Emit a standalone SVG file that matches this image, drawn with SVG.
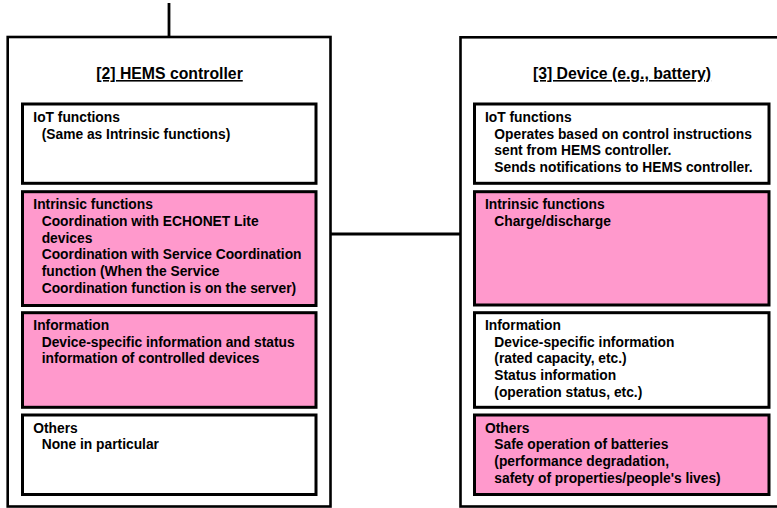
<svg xmlns="http://www.w3.org/2000/svg" width="777" height="508" viewBox="0 0 777 508">
  <style>
    .outer { fill: #ffffff; stroke: #000000; stroke-width: 2.6; }
    .box { stroke: #000000; stroke-width: 3; }
    .plain { fill: #ffffff; }
    .pink { fill: #ff99cc; }
    .wire { fill: none; stroke: #000000; stroke-width: 2.8; }
    text { font-family: "Liberation Sans", Arial, sans-serif; font-weight: bold; fill: #000000; }
    .title { font-size: 15.8px; text-anchor: middle; text-decoration: underline; }
    .body { font-size: 13.8px; }
  </style>

  <!-- connectors -->
  <g id="connectors">
    <line class="wire" x1="169" y1="3" x2="169" y2="37"/>
    <line class="wire" x1="330.5" y1="234" x2="460.5" y2="234"/>
  </g>

  <!-- [2] HEMS controller -->
  <g id="hems-controller">
    <rect class="outer" x="7.7" y="37" width="322.8" height="469.5"/>
    <text class="title" x="169.5" y="79">[2] HEMS controller</text>

    <g id="hems-iot">
      <rect class="box plain" x="22.5" y="104" width="293.5" height="79.3"/>
      <text class="body" x="33.3" y="122.3">IoT functions</text>
      <text class="body" x="41.7" y="139">(Same as Intrinsic functions)</text>
    </g>

    <g id="hems-intrinsic">
      <rect class="box pink" x="22.5" y="191.7" width="293.5" height="113.8"/>
      <text class="body" x="33.3" y="209.3">Intrinsic functions</text>
      <text class="body" x="41.7" y="226">Coordination with ECHONET Lite</text>
      <text class="body" x="41.7" y="242.7">devices</text>
      <text class="body" x="41.7" y="259.4">Coordination with Service Coordination</text>
      <text class="body" x="41.7" y="276.1">function (When the Service</text>
      <text class="body" x="41.7" y="292.8">Coordination function is on the server)</text>
    </g>

    <g id="hems-information">
      <rect class="box pink" x="22.5" y="312.7" width="293.5" height="94.6"/>
      <text class="body" x="33.3" y="330">Information</text>
      <text class="body" x="41.7" y="346.7">Device-specific information and status</text>
      <text class="body" x="41.7" y="363.4">information of controlled devices</text>
    </g>

    <g id="hems-others">
      <rect class="box plain" x="22.5" y="415" width="293.5" height="79.5"/>
      <text class="body" x="33.3" y="432.7">Others</text>
      <text class="body" x="41.7" y="449.4">None in particular</text>
    </g>
  </g>

  <!-- [3] Device (e.g., battery) -->
  <g id="device-battery">
    <rect class="outer" x="460.5" y="37.3" width="323" height="469.2"/>
    <text class="title" x="622" y="79">[3] Device (e.g., battery)</text>

    <g id="device-iot">
      <rect class="box plain" x="474.5" y="104" width="294.5" height="79.3"/>
      <text class="body" x="485" y="122">IoT functions</text>
      <text class="body" x="494.3" y="138.7">Operates based on control instructions</text>
      <text class="body" x="494.3" y="155.4">sent from HEMS controller.</text>
      <text class="body" x="494.3" y="172.1">Sends notifications to HEMS controller.</text>
    </g>

    <g id="device-intrinsic">
      <rect class="box pink" x="474.5" y="191.7" width="294.5" height="113.3"/>
      <text class="body" x="485" y="209.3">Intrinsic functions</text>
      <text class="body" x="494.3" y="226">Charge/discharge</text>
    </g>

    <g id="device-information">
      <rect class="box plain" x="474.5" y="312.7" width="294.5" height="94.6"/>
      <text class="body" x="485" y="330">Information</text>
      <text class="body" x="494.3" y="346.7">Device-specific information</text>
      <text class="body" x="494.3" y="363.4">(rated capacity, etc.)</text>
      <text class="body" x="494.3" y="380.1">Status information</text>
      <text class="body" x="494.3" y="396.8">(operation status, etc.)</text>
    </g>

    <g id="device-others">
      <rect class="box pink" x="474.5" y="415" width="294.5" height="79.5"/>
      <text class="body" x="485" y="432.7">Others</text>
      <text class="body" x="494.3" y="449.4">Safe operation of batteries</text>
      <text class="body" x="494.3" y="466.1">(performance degradation,</text>
      <text class="body" x="494.3" y="482.8">safety of properties/people's lives)</text>
    </g>
  </g>
</svg>
